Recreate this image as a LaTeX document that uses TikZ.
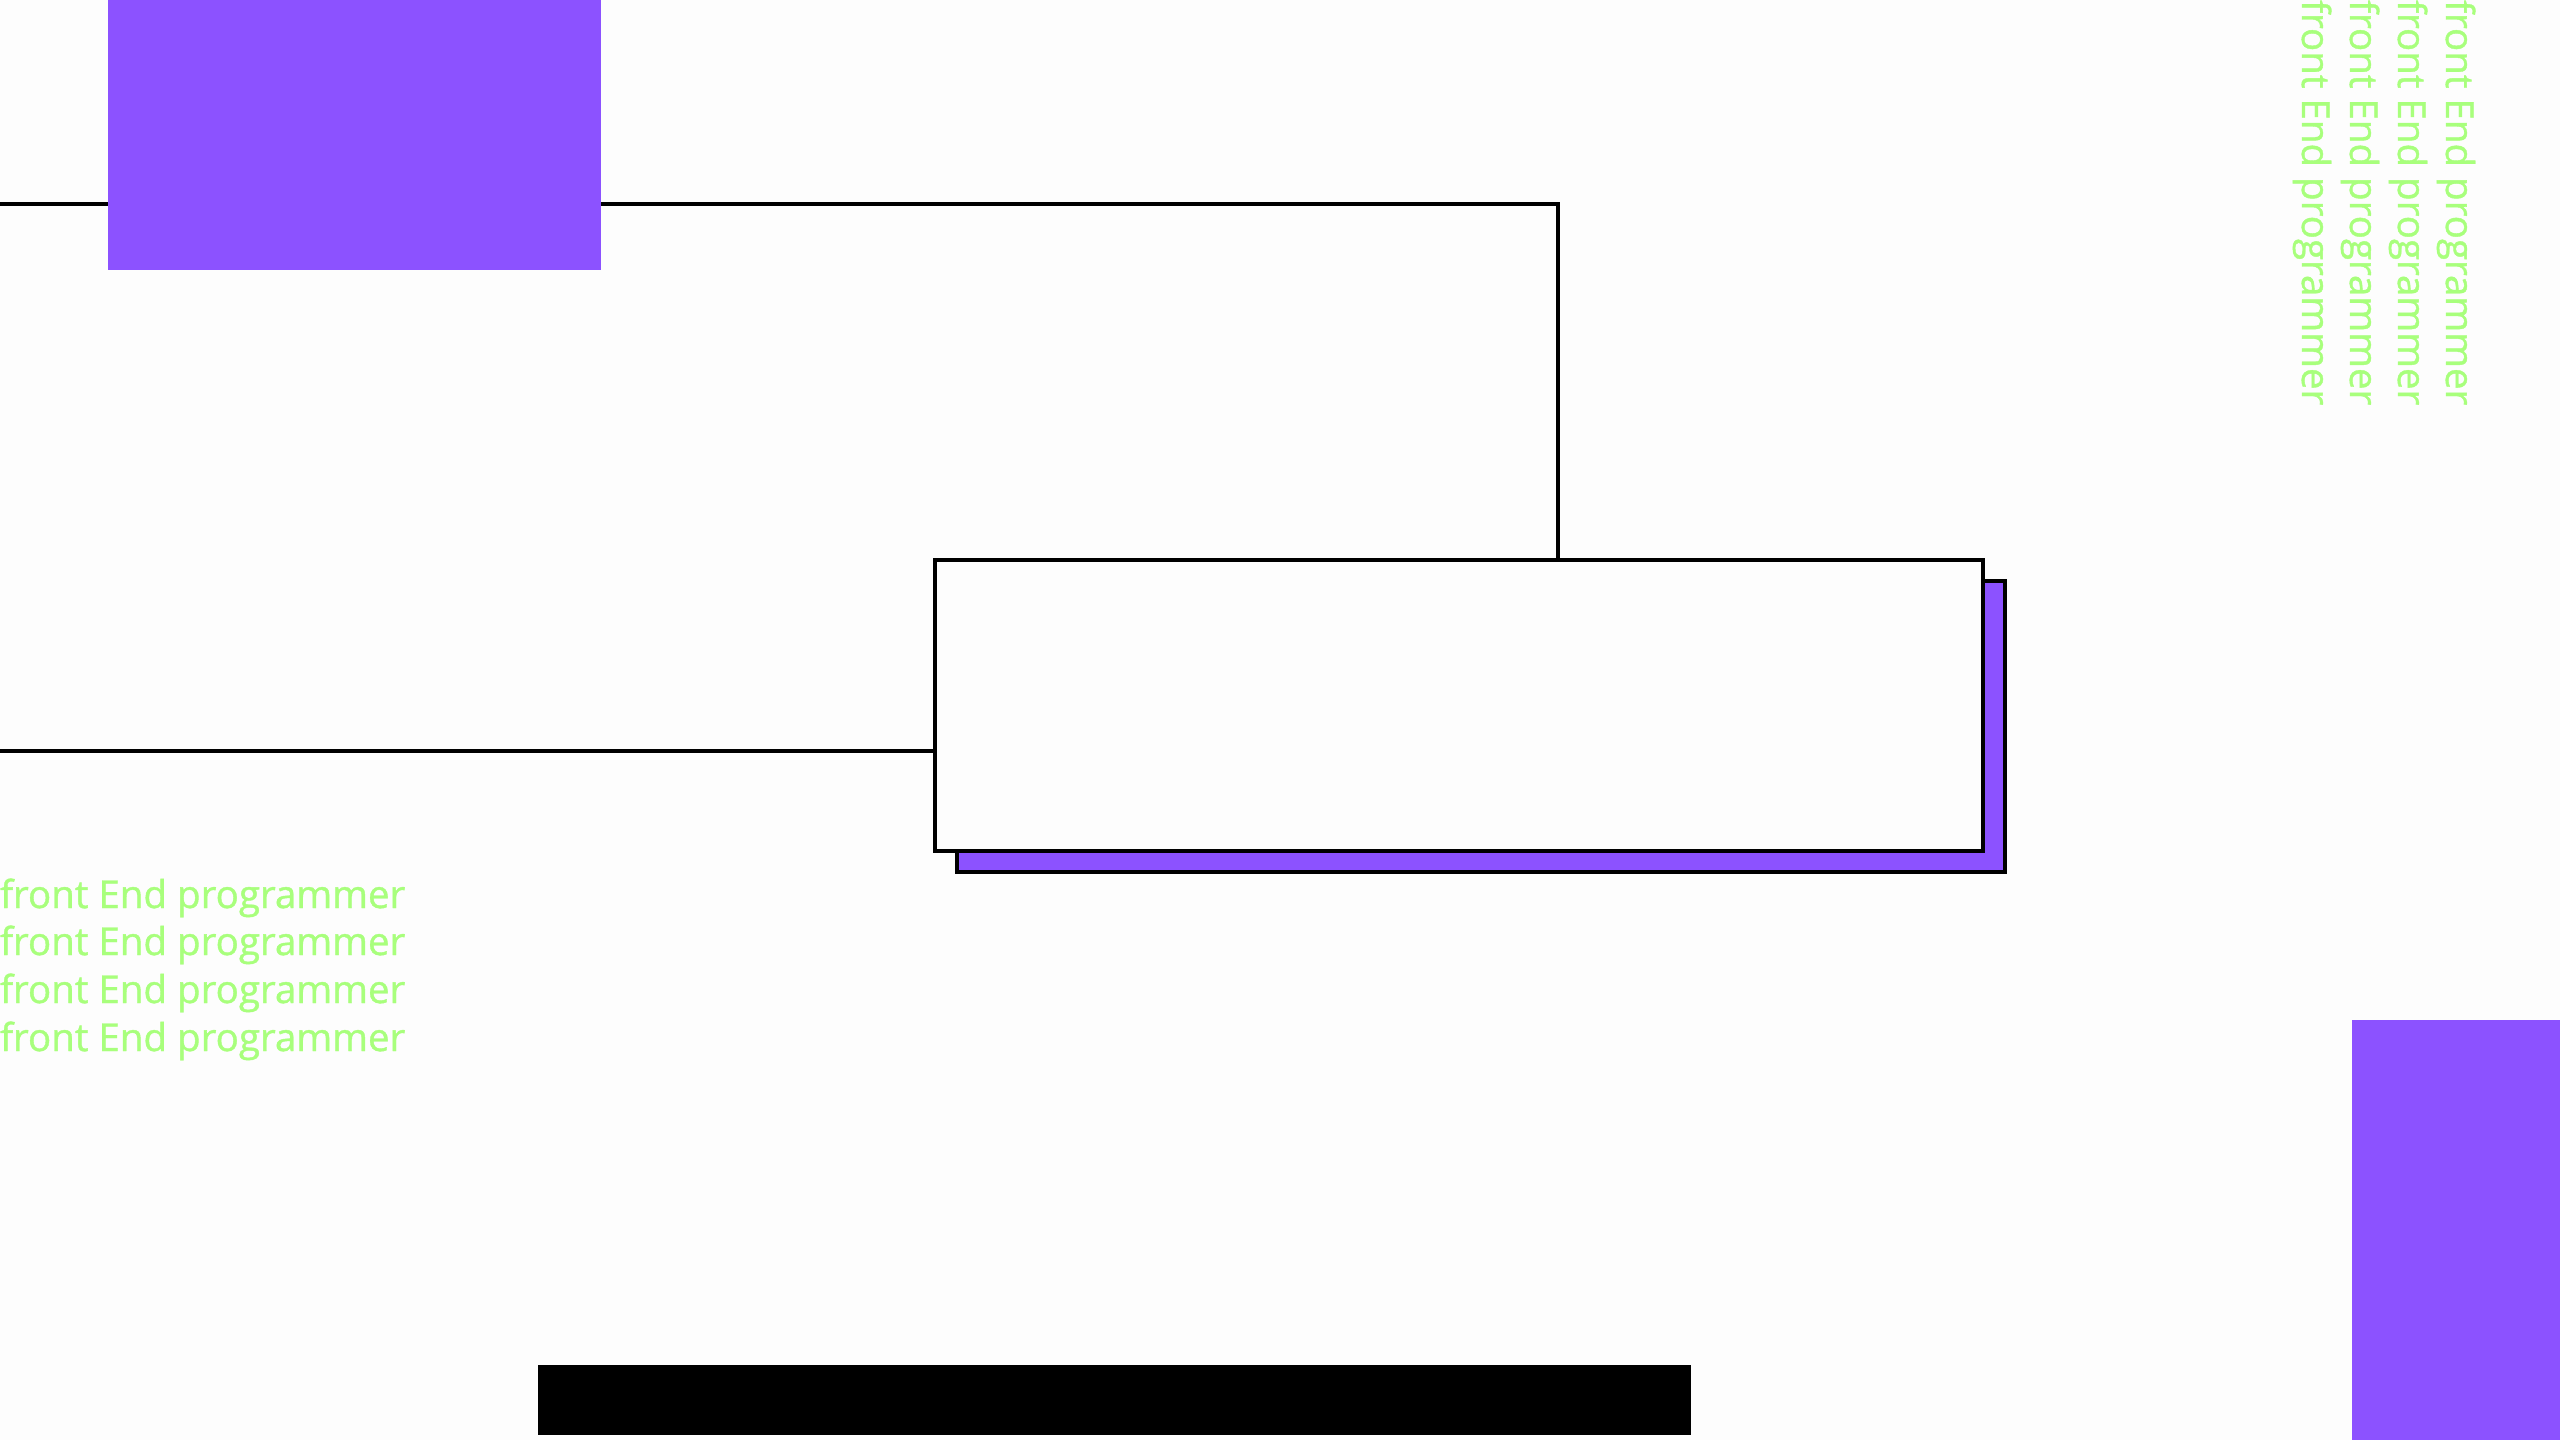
\documentclass[tikz,border=0pt]{standalone}
\usepackage{fontspec}
\setmainfont{Open Sans}
\newfontfamily\tagfont{Open Sans}[FakeBold=1.0]
\definecolor{bgc}{HTML}{FDFDFD}
\definecolor{purp}{HTML}{8C52FF}
\definecolor{lgreen}{HTML}{A8FF7C}
\begin{document}
\begin{tikzpicture}[x=1pt,y=-1pt,
  conn/.style={draw=black,line width=4pt},
  block/.style={fill=purp,draw=none,inner sep=0pt,outer sep=0pt,anchor=north west},
  card/.style={draw=black,line width=3.8pt,inner sep=0pt,outer sep=0pt,anchor=north west,minimum width=1048pt,minimum height=291pt},
  tag/.style={text=lgreen,inner sep=0pt,outer sep=0pt,anchor=base west,font=\tagfont\fontsize{38.5}{48}\selectfont}]
\fill[bgc] (0,0) rectangle (2560,1440);
\useasboundingbox (0,0) rectangle (2560,1440);
% shadow and card
\node[card,fill=purp] (shadow) at (957,581) {};
\node[card,fill=bgc] (box) at (935,560) {};
% connectors
\coordinate (tl) at (0,204);
\coordinate (tc) at (1558,204);
\draw[conn] (tl) -- (tc) -- (tc |- box.north);
\coordinate (ll) at (0,751);
\draw[conn] (ll) -- (ll -| box.west);
% blocks
\node[block,minimum width=493pt,minimum height=270pt] (pa) at (108,0) {};
\node[block,minimum width=208pt,minimum height=420pt] (pb) at (2352,1020) {};
\node[fill=black,inner sep=0pt,outer sep=0pt,anchor=north west,minimum width=1153pt,minimum height=70pt] (bar) at (538,1365) {};
% texts
\node[tag] (t1) at (0,908) {front End programmer};
\node[tag] (t2) at (0,955) {front End programmer};
\node[tag] (t3) at (0,1003) {front End programmer};
\node[tag] (t4) at (0,1051) {front End programmer};
\node[tag,rotate=-90] (v1) at (2302,0) {front End programmer};
\node[tag,rotate=-90] (v2) at (2350,0) {front End programmer};
\node[tag,rotate=-90] (v3) at (2398,0) {front End programmer};
\node[tag,rotate=-90] (v4) at (2446,0) {front End programmer};
\end{tikzpicture}
\end{document}
